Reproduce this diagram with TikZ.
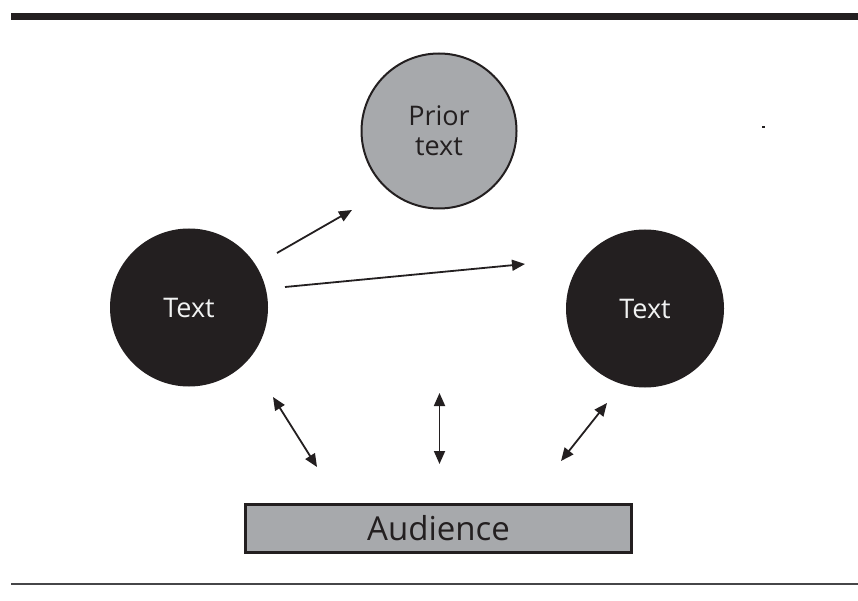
\documentclass[tikz,border=0pt]{standalone}
\usepackage{fontspec}
\setmainfont{Open Sans}
\usetikzlibrary{arrows.meta,positioning}
\definecolor{inkblack}{RGB}{35,31,32}
\definecolor{boxgray}{RGB}{167,169,172}
\definecolor{rulegray}{RGB}{70,70,72}
\definecolor{paletxt}{RGB}{241,242,242}

\begin{document}
\begin{tikzpicture}[x=1pt, y=-1pt,
  darkcirc/.style={circle, fill=inkblack, inner sep=0pt, minimum size=158pt, text=paletxt, font=\fontsize{27}{30}\selectfont},
  priorcirc/.style={circle, draw=inkblack, line width=2pt, fill=boxgray, inner sep=0pt, minimum size=155pt, text=inkblack, align=center, font=\fontsize{27}{30}\selectfont},
  audbox/.style={draw=inkblack, line width=2.5pt, fill=boxgray, minimum width=386pt, minimum height=48pt, inner sep=0pt, text=inkblack, font=\fontsize{33}{36}\selectfont},
  oneway/.style={-{Triangle[length=13pt,width=11pt]}, line width=1.8pt, inkblack},
  twoway/.style={{Triangle[length=13pt,width=11pt]}-{Triangle[length=13pt,width=11pt]}, line width=1.8pt, inkblack}]
\useasboundingbox (0,0) rectangle (858,601);
% rules at top and bottom
\fill[inkblack] (11,13) rectangle (858,20.5);
\draw[rulegray, line width=1.5pt] (11,584) -- (858,584);
% the three texts
\node[priorcirc] (prior) at (439,131) {Prior\\text};
\node[darkcirc] (textL) at (189,307.5) {Text};
\node[darkcirc] (textR) at (645,308.5) {Text};
% audience bar
\node[audbox] (aud) at (438.5,528.5) {Audience};
% stray mark
\fill[inkblack] (762,126) rectangle (764.5,128.5);
% arrow ends
\coordinate (p1s) at (277,253);
\coordinate (p1e) at (352,210);
\coordinate (p2s) at (285,287);
\coordinate (p2e) at (525,264);
\coordinate (aLs) at (273,397);
\coordinate (aLe) at (317,467);
\coordinate (aMs) at (439.5,393);
\coordinate (aMe) at (439.5,464);
\coordinate (aRs) at (607,403);
\coordinate (aRe) at (561,461);
% links from the text
\draw[oneway] (p1s) -- (p1e);
\draw[oneway] (p2s) -- (p2e);
% links with the audience
\draw[twoway] (aLs) -- (aLe);
\draw[twoway] (aMs) -- (aMe);
\draw[twoway] (aRs) -- (aRe);
\end{tikzpicture}
\end{document}
